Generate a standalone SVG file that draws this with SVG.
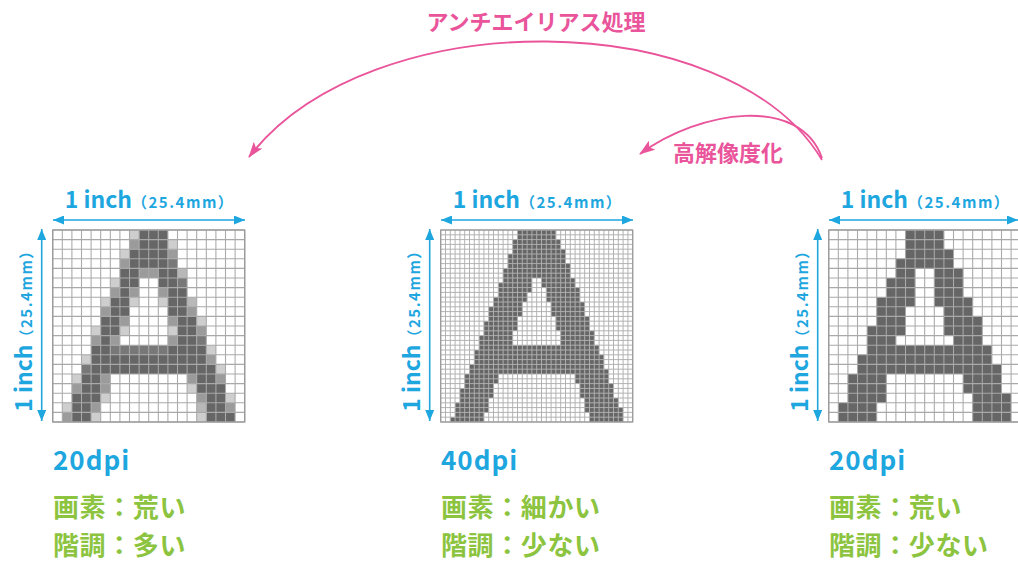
<svg xmlns="http://www.w3.org/2000/svg" xmlns:xlink="http://www.w3.org/1999/xlink" width="1018" height="561" viewBox="0 0 1018 561">
<style>
text{font-family:'Noto Sans CJK JP','Noto Sans',sans-serif;font-weight:700}
.cy{fill:#1ea6df}
.gr{fill:#8cc43f}
.pk{fill:#e9549a}
.d{fill:#666666}
.e{fill:#787878}
.m{fill:#9b9b9b}
.k{fill:#b8b8b8}
.l{fill:#cecece}
.gl{fill:none;stroke:#a9a9a9;stroke-width:0.11}
.gl40{fill:none;stroke:#b0b0b0;stroke-width:0.2}
.bd{fill:none;stroke:#9a9a9a;stroke-width:0.14}
.bd40{fill:none;stroke:#9a9a9a;stroke-width:0.26}
.dim{fill:none;stroke:#1ea6df;stroke-width:1.6;marker-start:url(#ac);marker-end:url(#ac)}
.arc{fill:none;stroke:#e9549a;stroke-width:1.8;marker-end:url(#ap)}
.h{font-size:23px}
.s{font-size:15px;letter-spacing:1.5px}
.dpi{font-size:26px;letter-spacing:1px}
.jp{font-size:26px;letter-spacing:0.6px}
.lab{font-size:22px}
</style>
<defs>
<marker id="ac" viewBox="0 0 11 9" markerWidth="11" markerHeight="9" refX="11" refY="4.5" orient="auto-start-reverse" markerUnits="userSpaceOnUse">
<path d="M0 0L11 4.5L0 9z" fill="#1ea6df"/>
</marker>
<marker id="ap" viewBox="0 0 16 11" markerWidth="16" markerHeight="11" refX="15" refY="5.5" orient="auto" markerUnits="userSpaceOnUse">
<path d="M0 0L16 5.5L0 11L3.5 5.5z" fill="#e9549a"/>
</marker>
<path id="g20" d="M0 0V20M1 0V20M2 0V20M3 0V20M4 0V20M5 0V20M6 0V20M7 0V20M8 0V20M9 0V20M10 0V20M11 0V20M12 0V20M13 0V20M14 0V20M15 0V20M16 0V20M17 0V20M18 0V20M19 0V20M20 0V20M0 0H20M0 1H20M0 2H20M0 3H20M0 4H20M0 5H20M0 6H20M0 7H20M0 8H20M0 9H20M0 10H20M0 11H20M0 12H20M0 13H20M0 14H20M0 15H20M0 16H20M0 17H20M0 18H20M0 19H20M0 20H20"/>
<path id="g40" d="M0 0V40M1 0V40M2 0V40M3 0V40M4 0V40M5 0V40M6 0V40M7 0V40M8 0V40M9 0V40M10 0V40M11 0V40M12 0V40M13 0V40M14 0V40M15 0V40M16 0V40M17 0V40M18 0V40M19 0V40M20 0V40M21 0V40M22 0V40M23 0V40M24 0V40M25 0V40M26 0V40M27 0V40M28 0V40M29 0V40M30 0V40M31 0V40M32 0V40M33 0V40M34 0V40M35 0V40M36 0V40M37 0V40M38 0V40M39 0V40M40 0V40M0 0H40M0 1H40M0 2H40M0 3H40M0 4H40M0 5H40M0 6H40M0 7H40M0 8H40M0 9H40M0 10H40M0 11H40M0 12H40M0 13H40M0 14H40M0 15H40M0 16H40M0 17H40M0 18H40M0 19H40M0 20H40M0 21H40M0 22H40M0 23H40M0 24H40M0 25H40M0 26H40M0 27H40M0 28H40M0 29H40M0 30H40M0 31H40M0 32H40M0 33H40M0 34H40M0 35H40M0 36H40M0 37H40M0 38H40M0 39H40M0 40H40"/>
</defs>
<rect width="1018" height="561" fill="#ffffff"/>

<g id="panel-20dpi-antialiased">
<g transform="translate(52.7 230) scale(9.6)">
<rect width="20" height="20" fill="#ffffff"/>
<path class="d" d="M9 0h3v1h-3zM9 1h3v1h-3zM8 2h4v1h-4zM8 3h4v1h-4zM7 4h2v1h-2zM11 4h2v1h-2zM7 5h2v1h-2zM11 5h2v1h-2zM7 6h1v1h-1zM12 6h2v1h-2zM6 7h2v1h-2zM12 7h2v1h-2zM6 8h2v1h-2zM12 8h2v1h-2zM5 9h2v1h-2zM13 9h2v1h-2zM5 10h2v1h-2zM13 10h2v1h-2zM5 11h1v1h-1zM13 11h2v1h-2zM4 12h2v1h-2zM12 12h4v1h-4zM4 13h12v1h-12zM4 14h13v1h-13zM3 15h2v1h-2zM15 15h2v1h-2zM3 16h2v1h-2zM15 16h3v1h-3zM2 17h3v1h-3zM16 17h2v1h-2zM2 18h2v1h-2zM16 18h2v1h-2zM2 19h2v1h-2zM16 19h3v1h-3z"/>
<path class="e" d="M12 3h1v1h-1zM13 5h1v1h-1zM15 11h1v1h-1zM6 12h6v1h-6zM3 14h1v1h-1z"/>
<path class="m" d="M8 1h1v1h-1zM12 2h1v1h-1zM7 3h1v1h-1zM9 4h2v1h-2zM6 6h1v1h-1zM8 6h1v1h-1zM11 6h1v1h-1zM5 8h1v1h-1zM14 8h1v1h-1zM7 9h1v1h-1zM12 9h1v1h-1zM15 10h1v1h-1zM4 11h1v1h-1zM6 11h1v1h-1zM12 11h1v1h-1zM16 13h1v1h-1zM5 15h1v1h-1zM14 15h1v1h-1zM17 15h1v1h-1zM2 16h1v1h-1zM5 16h1v1h-1zM15 17h1v1h-1zM4 18h1v1h-1zM18 18h1v1h-1zM1 19h1v1h-1z"/>
<path class="k" d="M13 4h1v1h-1zM14 7h1v1h-1zM15 18h1v1h-1z"/>
<path class="l" d="M8 0h1v1h-1zM12 1h1v1h-1zM7 2h1v1h-1zM6 5h1v1h-1zM5 7h1v1h-1zM8 7h1v1h-1zM11 7h1v1h-1zM15 9h1v1h-1zM4 10h1v1h-1zM7 10h1v1h-1zM12 10h1v1h-1zM16 12h1v1h-1zM3 13h1v1h-1zM17 14h1v1h-1zM2 15h1v1h-1zM14 16h1v1h-1zM5 17h1v1h-1zM18 17h1v1h-1zM1 18h1v1h-1zM4 19h1v1h-1zM15 19h1v1h-1z"/>
<use xlink:href="#g20" class="gl"/>
<rect width="20" height="20" class="bd"/>
</g>
<path class="dim" d="M53 220H245"/>
<path class="dim" d="M41.7 229V421"/>
<text class="cy h" x="149.5" y="208" text-anchor="middle">1 inch<tspan class="s">（25.4mm）</tspan></text>
<text class="cy h" transform="translate(31.5 327) rotate(-90)" text-anchor="middle">1 inch<tspan class="s">（25.4mm）</tspan></text>
<text class="cy dpi" x="53" y="470">20dpi</text>
<text class="gr jp" x="53" y="516.5">画素：荒い</text>
<text class="gr jp" x="53" y="554.5">階調：多い</text>
</g>

<g id="panel-40dpi">
<g transform="translate(440.7 230) scale(4.8)">
<rect width="40" height="40" fill="#ffffff"/>
<path class="d" d="M16 0h8v1h-8zM16 1h8v1h-8zM15 2h10v2h-10zM15 4h11v1h-11zM14 5h12v2h-12zM14 7h13v1h-13zM13 8h14v2h-14zM13 10h6v1h-6zM21 10h7v1h-7zM12 11h7v1h-7zM21 11h7v1h-7zM12 12h7v1h-7zM22 12h7v1h-7zM12 13h6v1h-6zM22 13h7v1h-7zM11 14h7v1h-7zM22 14h7v1h-7zM11 15h6v1h-6zM23 15h7v1h-7zM10 16h7v2h-7zM23 16h7v2h-7zM10 18h6v1h-6zM24 18h7v1h-7zM9 19h7v2h-7zM24 19h7v2h-7zM9 21h6v1h-6zM25 21h7v1h-7zM8 22h7v2h-7zM25 22h7v2h-7zM8 24h25v1h-25zM7 25h26v1h-26zM7 26h27v2h-27zM6 28h28v1h-28zM6 29h29v1h-29zM5 30h7v2h-7zM28 30h7v2h-7zM5 32h6v1h-6zM29 32h7v1h-7zM4 33h7v2h-7zM29 33h7v2h-7zM4 35h6v1h-6zM30 35h7v1h-7zM3 36h7v1h-7zM30 36h7v1h-7zM3 37h7v1h-7zM30 37h8v1h-8zM3 38h6v1h-6zM31 38h7v1h-7zM2 39h7v1h-7zM31 39h7v1h-7z"/>
<use xlink:href="#g40" class="gl40"/>
<rect width="40" height="40" class="bd40"/>
</g>
<path class="dim" d="M441 220H633"/>
<path class="dim" d="M429.7 229V421"/>
<text class="cy h" x="537.5" y="208" text-anchor="middle">1 inch<tspan class="s">（25.4mm）</tspan></text>
<text class="cy h" transform="translate(419.5 327) rotate(-90)" text-anchor="middle">1 inch<tspan class="s">（25.4mm）</tspan></text>
<text class="cy dpi" x="441" y="470">40dpi</text>
<text class="gr jp" x="441" y="516.5">画素：細かい</text>
<text class="gr jp" x="441" y="554.5">階調：少ない</text>
</g>

<g id="panel-20dpi">
<g transform="translate(828.7 230) scale(9.6)">
<rect width="20" height="20" fill="#ffffff"/>
<path class="d" d="M8 0h4v2h-4zM8 2h5v1h-5zM7 3h6v1h-6zM7 4h2v1h-2zM11 4h3v1h-3zM6 5h3v2h-3zM11 5h3v2h-3zM5 7h4v1h-4zM11 7h4v1h-4zM5 8h3v1h-3zM12 8h3v1h-3zM5 9h3v1h-3zM12 9h4v1h-4zM4 10h4v1h-4zM12 10h4v1h-4zM4 11h3v1h-3zM13 11h3v1h-3zM4 12h13v1h-13zM3 13h14v1h-14zM3 14h15v1h-15zM2 15h4v2h-4zM14 15h4v2h-4zM2 17h4v1h-4zM15 17h4v1h-4zM1 18h4v2h-4zM15 18h4v2h-4z"/>
<use xlink:href="#g20" class="gl"/>
<rect width="20" height="20" class="bd"/>
</g>
<path class="dim" d="M829 220H1018"/>
<path class="dim" d="M817.7 229V421"/>
<text class="cy h" x="925.5" y="208" text-anchor="middle">1 inch<tspan class="s">（25.4mm）</tspan></text>
<text class="cy h" transform="translate(807.5 327) rotate(-90)" text-anchor="middle">1 inch<tspan class="s">（25.4mm）</tspan></text>
<text class="cy dpi" x="829" y="470">20dpi</text>
<text class="gr jp" x="829" y="516.5">画素：荒い</text>
<text class="gr jp" x="829" y="554.5">階調：少ない</text>
</g>

<g id="connectors">
<path class="arc" d="M822 160C730 5 370 0 249 157"/>
<path class="arc" d="M822 158C800 95 700 110 640 154"/>
<text class="pk lab" x="536" y="30" text-anchor="middle">アンチエイリアス処理</text>
<text class="pk lab" x="728" y="161" text-anchor="middle">高解像度化</text>
</g>
</svg>
